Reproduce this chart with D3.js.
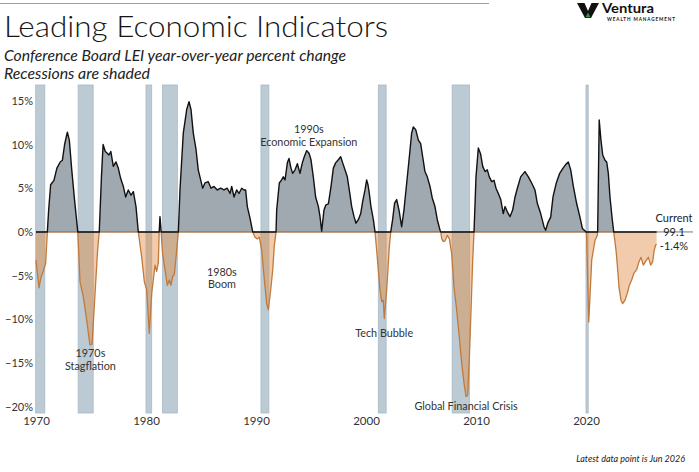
<!DOCTYPE html>
<html><head><meta charset="utf-8">
<script src="https://cdn.jsdelivr.net/npm/d3@7"></script>
<style>
html,body{margin:0;padding:0;background:#fff;}
svg{display:block;font-family:Lato,"Open Sans",sans-serif;}
</style></head>
<body>
<svg id="c" width="699" height="472"></svg>
<script>
// ---- data ----
const leiYears = [1970.0,1970.27,1970.45,1970.66,1970.88,1971.03,1971.15,1971.33,1971.63,1971.9,1972.2,1972.4,1972.6,1972.85,1973.03,1973.25,1973.5,1973.8,
1974.0,1974.3,1974.6,1974.9,1975.1,1975.35,1975.6,1975.75,1975.95,1976.1,1976.3,1976.48,1976.63,1976.8,1977.03,1977.27,1977.48,1977.7,1977.94,
1978.15,1978.39,1978.64,1978.85,1979.09,1979.3,1979.6,1979.85,1980.06,1980.3,1980.52,1980.82,1980.97,1981.12,1981.2,1981.27,1981.38,
1981.5,1981.82,1981.94,1982.12,1982.27,1982.42,1982.57,1982.79,1982.94,1983.09,1983.39,1983.7,1983.91,1984.09,1984.3,1984.55,1984.75,1984.97,
1985.15,1985.36,1985.66,1985.91,1986.18,1986.48,1986.79,1987.09,1987.39,1987.64,1987.79,1988.0,1988.24,1988.45,1988.7,1988.91,1989.06,1989.21,
1989.45,1989.7,1989.91,1990.12,1990.3,1990.52,1990.73,1990.97,1991.12,1991.33,1991.52,1991.67,1991.82,1991.88,1992.12,1992.33,1992.48,1992.64,
1992.85,1993.0,1993.18,1993.33,1993.55,1993.76,1994.0,1994.21,1994.39,1994.61,1994.82,1995.0,1995.21,1995.42,1995.67,1995.82,1995.97,1996.18,
1996.36,1996.58,1996.82,1997.03,1997.24,1997.48,1997.7,1997.88,1998.09,1998.3,1998.48,1998.7,1998.91,1999.09,1999.3,1999.52,1999.7,1999.91,
2000.06,2000.18,2000.3,2000.45,2000.67,2000.82,2000.97,2001.12,2001.27,2001.43,2001.57,2001.66,2001.88,2002.12,2002.25,2002.42,2002.6,2002.79,
2003.0,2003.24,2003.45,2003.7,2003.94,2004.15,2004.3,2004.52,2004.76,2004.97,2005.15,2005.36,2005.57,2005.82,2006.03,2006.27,2006.48,2006.73,
2006.8,2006.88,2007.03,2007.18,2007.39,2007.58,2007.79,2008.0,2008.24,2008.48,2008.7,2008.91,2009.09,2009.24,2009.39,2009.55,2009.7,2009.82,
2010.0,2010.21,2010.42,2010.61,2010.82,2011.03,2011.21,2011.43,2011.64,2011.82,2012.03,2012.25,2012.48,2012.64,2012.85,2013.09,2013.33,2013.55,
2013.76,2014.06,2014.45,2014.76,2015.06,2015.36,2015.58,2015.88,2016.18,2016.33,2016.55,2016.79,2017.0,2017.3,2017.61,2017.91,2018.15,2018.39,
2018.61,2018.85,2019.15,2019.45,2019.67,2019.85,2020.0,2020.05,2020.25,2020.52,2020.82,2021.03,2021.06,2021.2,2021.36,2021.52,2021.73,2021.88,
2022.03,2022.18,2022.39,2022.52,2022.73,2022.88,2023.0,2023.18,2023.33,2023.55,2023.76,2023.94,2024.15,2024.36,2024.61,2024.82,2025.0,2025.21,
2025.45,2025.67,2025.88,2026.06,2026.2,2026.33,2026.42];
const leiValues = [-3.2,-6.4,-5.2,-4.5,-3.6,0,2.5,5.4,5.9,7.3,8.0,8.2,10.0,11.4,10.5,7.1,3.7,0,
-5.7,-7.4,-10.0,-12.9,-12.8,-7.4,-2.1,0,6.3,10.0,9.2,9.0,8.8,9.2,7.5,8.0,7.3,6.1,5.2,
4.0,4.8,4.2,4.6,2.9,0,-2.8,-5.7,-6.6,-11.6,-7.0,-3.8,-4.5,-3.5,0,1.75,0,
-2.4,-5.1,-6.1,-5.5,-6.1,-5.1,-4.9,-2.1,0,4.8,11.3,14.0,14.9,14.0,11.3,9.4,7.1,5.95,
5.0,5.6,5.75,5.0,5.2,4.8,5.0,4.8,5.0,4.4,5.2,4.0,4.8,4.4,5.0,4.8,4.8,2.9,
1.6,0,-0.6,-0.8,-0.6,-2.1,-5.1,-8.2,-8.9,-6.7,-4.35,-1.5,0,2.5,5.6,5.95,6.3,5.95,
7.9,8.4,7.3,6.7,7.1,7.8,6.7,7.9,8.6,9.3,9.0,8.25,6.3,4.0,2.9,1.75,0.1,2.5,
3.1,3.2,5.2,7.3,7.9,8.25,8.6,7.9,7.1,6.3,4.8,2.9,1.75,1.0,1.4,2.1,3.5,4.8,
5.95,5.4,4.4,2.9,1.4,0,-2.1,-4.35,-6.6,-8.0,-7.8,-9.9,-6.6,-1.7,0,1.4,3.3,3.7,
2.5,0.6,2.5,5.6,8.6,11.3,12.0,11.7,10.5,10.1,8.6,6.9,6.3,5.2,3.85,2.9,1.4,0.2,
0,-0.76,-1.1,-1.0,-0.4,-0.8,-2.5,-6.3,-8.9,-12.0,-15.0,-17.3,-18.8,-18.7,-14.6,-8.9,-3.2,0,
6.3,9.6,8.9,7.5,6.9,7.1,6.3,5.75,5.9,5.0,4.4,3.7,2.1,2.9,2.3,1.75,2.5,4.0,
5.0,6.3,6.9,6.3,5.6,4.8,3.25,2.1,0.6,0.2,1.1,1.7,4.0,5.6,6.7,7.3,7.7,8.0,
7.1,5.2,3.25,1.7,0.4,0.2,0,-0.2,-10.3,-3.2,-0.95,-0.4,0,12.8,10.5,8.8,8.2,8.0,
6.7,4.0,1.4,0,-2.1,-4.3,-6.3,-7.8,-8.2,-7.8,-7.0,-6.1,-5.5,-4.7,-4.3,-3.4,-2.9,-3.8,
-3.3,-2.9,-3.8,-3.4,-2.1,-1.5,-1.4];
const recessionStarts = [1969.97,1973.83,1980.0,1981.5,1990.45,2001.12,2007.83,2020.0];
const recessionEnds   = [1970.8,1975.2,1980.52,1982.85,1991.17,2001.83,2009.42,2020.2];
const yTicks = [15,10,5,0,-5,-10,-15,-20];
const xTicks = [1970,1980,1990,2000,2010,2020];
const noteLines = [["1970s","Stagflation"],["1980s","Boom"],["1990s","Economic Expansion"],["Tech Bubble"],["Global Financial Crisis"]];
const noteYears = [1974.95,1986.9,1994.8,2001.65,2009.1];
const noteValues = [-14.3,-5.0,11.3,-12.0,-20.3];
const currentLabels = ["Current","99.1","-1.4%"];
const currentValues = [1.6,0,-1.6];

// ---- layout ----
const svg = d3.select("#c");
const x = d3.scaleLinear().domain([1970,2027]).range([36,663]);
const y = d3.scaleLinear().domain([-20.7,16.8]).range([413,85]);
const data = leiYears.map((t,i)=>({t, v:leiValues[i]}));

// header
svg.append("line").attr("x1",0).attr("x2",489).attr("y1",3.5).attr("y2",3.5)
  .attr("stroke","#a0a0a0").attr("stroke-width",1);
svg.append("text").attr("x",4).attr("y",37).attr("font-size",29).attr("font-weight",300)
  .attr("fill","#151515").attr("textLength",384).attr("lengthAdjust","spacingAndGlyphs")
  .text("Leading Economic Indicators");
svg.append("text").attr("x",4).attr("y",61).attr("font-size",14.5).attr("font-style","italic")
  .attr("fill","#222").attr("textLength",342).attr("lengthAdjust","spacingAndGlyphs")
  .text("Conference Board LEI year-over-year percent change");
svg.append("text").attr("x",4).attr("y",78.5).attr("font-size",14.5).attr("font-style","italic")
  .attr("fill","#222").attr("textLength",146).attr("lengthAdjust","spacingAndGlyphs")
  .text("Recessions are shaded");

// logo
const logo = svg.append("g");
logo.append("path").attr("d","M577,3 L584.5,3 L588,11 L591.5,3 L599,3 L591,18 L585,18 Z").attr("fill","#111");
logo.append("path").attr("d","M585.6,17.2 L590.4,17.2 L588,12.5 Z").attr("fill","#2f9a48");
logo.append("text").attr("x",602).attr("y",12.5).attr("font-size",14).attr("font-weight",700)
  .attr("fill","#111").attr("textLength",52).attr("lengthAdjust","spacingAndGlyphs").text("Ventura");
logo.append("text").attr("x",607).attr("y",20.5).attr("font-size",4.6).attr("font-weight",700)
  .attr("fill","#111").attr("textLength",68).attr("lengthAdjust","spacing").text("WEALTH MANAGEMENT");

// recession bars
svg.append("g").selectAll("rect").data(recessionStarts).join("rect")
  .attr("x",(d)=>x(d)).attr("width",(d,i)=>Math.max(1.5,x(recessionEnds[i])-x(d)))
  .attr("y",y.range()[1]).attr("height",y.range()[0]-y.range()[1])
  .attr("fill","#bccad4").attr("stroke","#a9bac6").attr("stroke-width",0.8);

// areas
const pos = d=>Math.max(0,d.v), neg = d=>Math.min(0,d.v);
const areaPos = d3.area().x(d=>x(d.t)).y0(y(0)).y1(d=>y(pos(d)));
const areaNeg = d3.area().x(d=>x(d.t)).y0(y(0)).y1(d=>y(neg(d)));
svg.append("path").datum(data).attr("d",areaPos).attr("fill","rgba(92,106,119,0.58)");
svg.append("path").datum(data).attr("d",areaNeg).attr("fill","rgba(224,140,68,0.45)");

// zero reference line extending to the current label
svg.append("line").attr("x1",x(1970)).attr("x2",693).attr("y1",y(0)).attr("y2",y(0))
  .attr("stroke","#777").attr("stroke-width",1);

// lines
const linePos = d3.line().x(d=>x(d.t)).y(d=>y(pos(d)));
const lineNeg = d3.line().x(d=>x(d.t)).y(d=>y(neg(d)));
svg.append("path").datum(data).attr("d",lineNeg).attr("fill","none")
  .attr("stroke","#c07a3c").attr("stroke-width",1.3).attr("stroke-linejoin","round");
svg.append("path").datum(data).attr("d",linePos).attr("fill","none")
  .attr("stroke","#111").attr("stroke-width",1.4).attr("stroke-linejoin","round");

// axes
const yAxis = svg.append("g").attr("transform","translate(34,0)")
  .call(d3.axisLeft(y).tickValues(yTicks).tickSize(0).tickPadding(1)
    .tickFormat(d=>d3.format(".0%")(d/100)));
yAxis.select(".domain").remove();
yAxis.selectAll("text").attr("font-size",11).attr("fill","#333").attr("font-family","Lato,sans-serif");

const xAxis = svg.append("g").attr("transform",`translate(0,${y.range()[0]})`)
  .call(d3.axisBottom(x).tickValues(xTicks).tickSize(0).tickPadding(4).tickFormat(d3.format("d")));
xAxis.select(".domain").remove();
xAxis.selectAll("text").attr("font-size",11.5).attr("fill","#333").attr("font-family","Lato,sans-serif");

// annotations
noteLines.forEach((lines,i)=>{
  const t = svg.append("text").attr("text-anchor","middle").attr("font-size",10.8).attr("fill","#333")
    .attr("x",x(noteYears[i])).attr("y",y(noteValues[i]));
  lines.forEach((s,j)=>t.append("tspan").attr("x",x(noteYears[i])).attr("dy",j===0?0:12.5).text(s));
});

// current value labels
currentLabels.forEach((s,i)=>{
  svg.append("text").attr("text-anchor","middle").attr("font-size",11).attr("fill","#222")
    .attr("x",674).attr("y",y(currentValues[i])).attr("dy","0.35em").text(s);
});

svg.append("text").attr("x",685).attr("y",462).attr("text-anchor","end").attr("font-size",9)
  .attr("font-style","italic").attr("fill","#222").text("Latest data point is Jun 2026");
</script>
</body></html>
